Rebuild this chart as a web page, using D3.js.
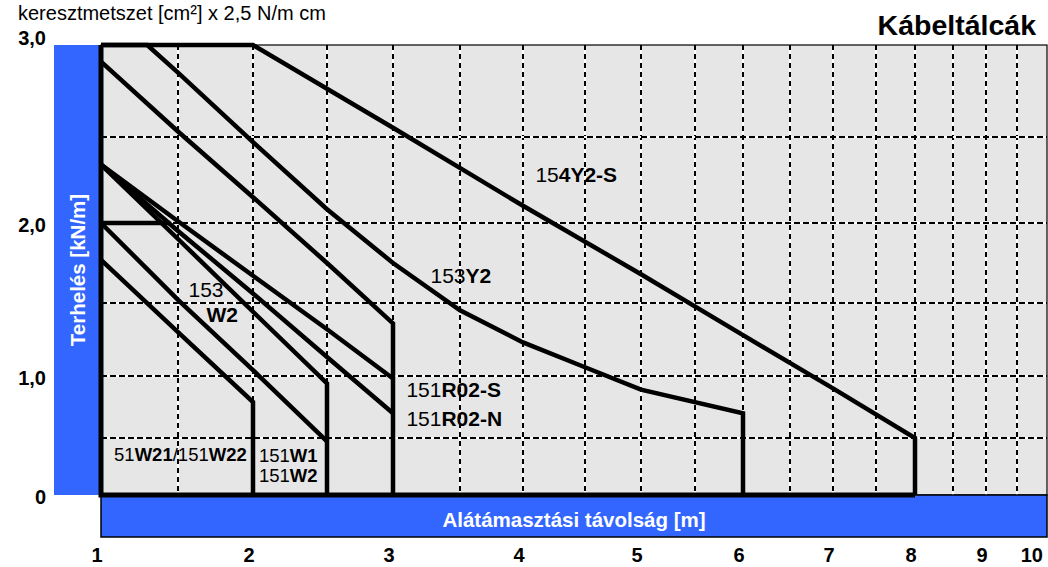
<!DOCTYPE html>
<html>
<head>
<meta charset="UTF-8" />
<title>Kábeltálcák</title>
<script src="https://d3js.org/d3.v7.min.js"></script>
<style>
  body { margin: 0; background: #fff; }
  text { font-family: "Liberation Sans", Arial, sans-serif; }
</style>
</head>
<body>
<svg id="chart" width="1048" height="567"></svg>
<script>
// tick values
const xTicks = [1, 2, 3, 4, 5, 6, 7, 8, 9, 10];
const yTicks = [0, 1, 2, 3];
const yTickLabels = ["0", "1,0", "2,0", "3,0"];
const xGrid = [1.5, 2, 2.5, 3, 3.5, 4, 4.5, 5, 5.5, 6, 6.5, 7, 7.5, 8, 8.5, 9, 9.5];
const yGrid = [0.5, 1, 1.5, 2, 2.5];

// load curves [span m, load kN/m]
const s154Y2S = [[1, 3], [2, 3], [3, 2.55], [4, 2.1], [5, 1.68], [6, 1.28], [7, 0.9], [8, 0.5], [8, 0]];
const s153Y2 = [[1, 3], [1.3, 3], [1.5, 2.85], [2, 2.47], [2.5, 2.08], [3, 1.75], [3.5, 1.45], [4, 1.23], [4.5, 1.06], [5, 0.89], [6, 0.7], [6, 0]];
const sUnlabeled = [[1, 2.91], [1.5, 2.53], [2, 2.15], [2.5, 1.75], [3, 1.36], [3, 0]];
const s151R02S = [[1, 2.34], [1.5, 2.01], [2, 1.67], [2.5, 1.32], [3, 0.98]];
const s151R02N = [[1, 2.34], [1.5, 1.95], [2, 1.56], [2.5, 1.13], [3, 0.7]];
const s153W2 = [[1, 2], [1.45, 2]];
const s151W1 = [[1, 2.34], [1.5, 1.9], [2, 1.44], [2.5, 0.94], [2.5, 0]];
const s151W2 = [[1, 2], [1.5, 1.52], [2, 1.04], [2.5, 0.47]];
const s151W21 = [[1, 1.77], [1.5, 1.3], [2, 0.79], [2, 0]];

const allSeries = [s154Y2S, s153Y2, sUnlabeled, s151R02S, s151R02N, s153W2, s151W1, s151W2, s151W21];

// curve labels: [plain, bold] pieces, placed in data units
const labels = [
  { x: 4.1, y: 2.24, size: 21, parts: [["15", 0], ["4Y2-S", 1]] },
  { x: 3.28, y: 1.625, size: 21, parts: [["153", 0], ["Y2", 1]] },
  { x: 1.57, y: 1.54, size: 21, parts: [["153", 0]] },
  { x: 1.69, y: 1.37, size: 21, parts: [["W2", 1]] },
  { x: 3.1, y: 0.83, size: 21, parts: [["151", 0], ["R02-S", 1]] },
  { x: 3.1, y: 0.6, size: 21, parts: [["151", 0], ["R02-N", 1]] },
  { x: 1.085, y: 0.3, size: 18.5, parts: [["51", 0], ["W21", 1], ["/151", 0], ["W22", 1]] },
  { x: 2.04, y: 0.29, size: 18.5, parts: [["151", 0], ["W1", 1]] },
  { x: 2.04, y: 0.114, size: 18.5, parts: [["151", 0], ["W2", 1]] }
];

const blue = "#3366ff";
const svg = d3.select("#chart");

// the original axes are not linear: piecewise scales fitted to the grid
const x = d3.scaleLinear()
  .domain(d3.range(1, 10.01, 0.5))
  .range([101, 178, 253, 327, 393, 460, 523, 585, 641, 695, 743, 790, 833, 876, 915, 953, 986, 1017, 1047]);
const y = d3.scaleLinear()
  .domain([0, 0.5, 1, 1.5, 2, 2.5, 3])
  .range([495, 438, 376, 303, 223, 137, 45]);

const x0 = x(1), x1 = x(10), yTop = y(3), yBot = y(0);

// header text
svg.append("text")
  .attr("x", 18).attr("y", 20)
  .attr("font-size", 20)
  .text("keresztmetszet [cm²] x 2,5 N/m cm");

svg.append("text")
  .attr("x", 1036).attr("y", 35)
  .attr("text-anchor", "end")
  .attr("font-size", 28.5).attr("font-weight", "bold")
  .text("Kábeltálcák");

// y axis band
svg.append("rect")
  .attr("x", 54).attr("y", yTop)
  .attr("width", x0 - 54).attr("height", yBot - yTop)
  .attr("fill", blue);

svg.append("text")
  .attr("transform", `translate(85,${(yTop + yBot) / 2}) rotate(-90)`)
  .attr("text-anchor", "middle")
  .attr("font-size", 20.5).attr("font-weight", "bold")
  .attr("fill", "#fff")
  .text("Terhelés [kN/m]");

// plot background
svg.append("rect")
  .attr("x", x0).attr("y", yTop)
  .attr("width", x1 - x0).attr("height", yBot - yTop)
  .attr("fill", "#e6e6e6")
  .attr("stroke", "#000").attr("stroke-width", 1.2);

// grid: white line under black dashes
const grid = svg.append("g");
xGrid.forEach(v => {
  grid.append("line").attr("x1", x(v)).attr("x2", x(v)).attr("y1", yTop).attr("y2", yBot)
    .attr("stroke", "#fff").attr("stroke-width", 2);
  grid.append("line").attr("x1", x(v)).attr("x2", x(v)).attr("y1", yTop).attr("y2", yBot)
    .attr("stroke", "#000").attr("stroke-width", 2).attr("stroke-dasharray", "5,4");
});
yGrid.forEach(v => {
  grid.append("line").attr("x1", x0).attr("x2", x1).attr("y1", y(v)).attr("y2", y(v))
    .attr("stroke", "#fff").attr("stroke-width", 2);
  grid.append("line").attr("x1", x0).attr("x2", x1).attr("y1", y(v)).attr("y2", y(v))
    .attr("stroke", "#000").attr("stroke-width", 2).attr("stroke-dasharray", "6,3");
});

// x axis band
svg.append("rect")
  .attr("x", x0).attr("y", yBot)
  .attr("width", x1 - x0).attr("height", 42)
  .attr("fill", blue)
  .attr("stroke", "#000").attr("stroke-width", 1.5);

svg.append("text")
  .attr("x", (x0 + x1) / 2).attr("y", 527)
  .attr("text-anchor", "middle")
  .attr("font-size", 20.5).attr("font-weight", "bold")
  .attr("fill", "#fff")
  .text("Alátámasztási távolság [m]");

// curves
const line = d3.line().x(d => x(d[0])).y(d => y(d[1]));

svg.append("g")
  .selectAll("path")
  .data(allSeries)
  .join("path")
  .attr("d", line)
  .attr("fill", "none")
  .attr("stroke", "#000")
  .attr("stroke-width", 4.5)
  .attr("stroke-linejoin", "miter");

// thick envelope along the left edge and the bottom
const maxSpan = d3.max(allSeries, s => s[s.length - 1][0]);
svg.append("path")
  .attr("d", line([[1, 3], [1, 0], [maxSpan, 0]]))
  .attr("fill", "none")
  .attr("stroke", "#000")
  .attr("stroke-width", 5);

// curve labels
labels.forEach(l => {
  const t = svg.append("text")
    .attr("x", x(l.x)).attr("y", y(l.y))
    .attr("font-size", l.size)
    .attr("fill", "#000");
  l.parts.forEach(p => {
    t.append("tspan").attr("font-weight", p[1] ? "bold" : "normal").text(p[0]);
  });
});

// tick labels
svg.append("g")
  .selectAll("text")
  .data(xTicks)
  .join("text")
  .attr("x", d => x(d) - 4)
  .attr("text-anchor", d => d === 10 ? "end" : "middle")
  .attr("y", 562)
  .attr("font-size", 20).attr("font-weight", "bold")
  .text(d => d);

svg.append("g")
  .selectAll("text")
  .data(yTicks)
  .join("text")
  .attr("x", 46)
  .attr("y", d => d === 3 ? y(d) : y(d) + 9)
  .attr("text-anchor", "end")
  .attr("font-size", 20).attr("font-weight", "bold")
  .text((d, i) => yTickLabels[i]);
</script>
</body>
</html>
